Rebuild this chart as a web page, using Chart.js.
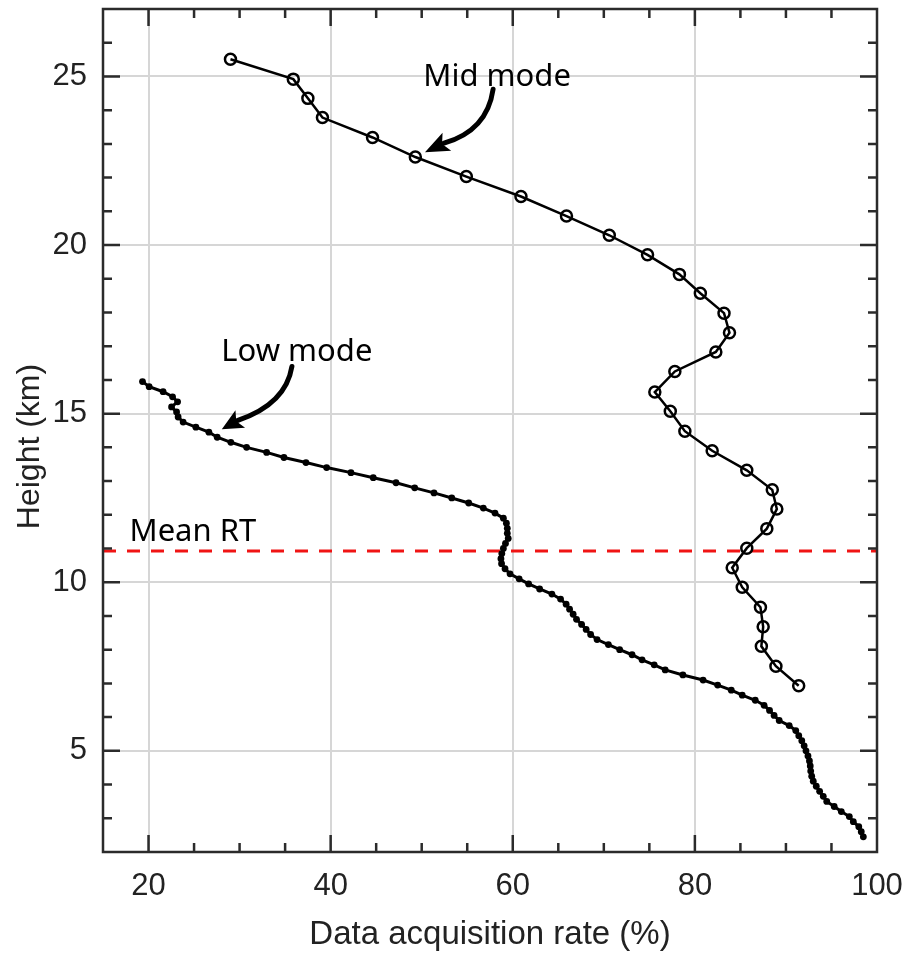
<!DOCTYPE html>
<html>
<head>
<meta charset="utf-8">
<script src="https://cdn.jsdelivr.net/npm/chart.js@4.4.1/dist/chart.umd.min.js"></script>
<style>
  html, body { margin: 0; padding: 0; background: #fff; }
  #wrap { width: 909px; height: 954px; }
</style>
</head>
<body>
<div id="wrap"><canvas id="rateChart" width="909" height="954"></canvas></div>
<script>
// ===== datos =====
const xTickLabels = [20, 40, 60, 80, 100];
const yTickLabels = [5, 10, 15, 20, 25];

// Mid mode (circulos)
const midRate = [29.0, 35.9, 37.5, 39.1, 44.6, 49.3, 54.9, 60.9, 65.9, 70.6, 74.8, 78.3, 80.6,
  83.2, 83.8, 82.3, 77.8, 75.6, 77.3, 78.9, 81.9, 85.7, 88.5, 89.0, 87.9, 85.7, 84.1, 85.2,
  87.2, 87.5, 87.3, 88.9, 91.4];
const midHeight = [25.51, 24.92, 24.35, 23.78, 23.19, 22.61, 22.03, 21.44, 20.86, 20.29, 19.71,
  19.13, 18.57, 17.98, 17.40, 16.83, 16.25, 15.64, 15.07, 14.48, 13.90, 13.32, 12.74, 12.17,
  11.59, 11.01, 10.43, 9.85, 9.26, 8.68, 8.10, 7.51, 6.93];

// Low mode (puntos)
const lowRate = [19.34, 20.07, 21.6, 22.64, 23.19, 22.53, 23.08, 23.25, 23.8, 25.2,
  26.63, 27.54, 29.04, 30.77, 32.97, 34.87, 37.29, 39.56, 42.23, 44.68,
  47.18, 49.23, 51.35, 53.3, 55.16, 56.77, 58.05, 58.97, 59.3, 59.4,
  59.4, 59.5, 59.2, 58.97, 58.8, 58.7, 58.77, 59.15, 59.7, 60.7,
  61.74, 62.95, 64.3, 65.25, 65.86, 66.24, 66.63, 67.0, 67.56, 68.06,
  68.55, 69.26, 70.5, 71.74, 73.1, 74.2, 75.53, 76.74, 78.68, 80.9,
  82.5, 84.0, 85.2, 86.63, 87.6, 88.2, 88.7, 89.26, 90.36, 91.08,
  91.41, 91.74, 92.0, 92.2, 92.42, 92.58, 92.67, 92.72, 92.83, 93.0,
  93.33, 93.7, 94.1, 94.48, 95.3, 96.08, 96.96, 97.4, 98.0, 98.27, 98.5];
const lowHeight = [15.95, 15.80, 15.65, 15.50, 15.35, 15.20, 15.05, 14.90, 14.75, 14.60,
  14.45, 14.30, 14.15, 14.00, 13.85, 13.70, 13.55, 13.40, 13.25, 13.10,
  12.95, 12.80, 12.65, 12.50, 12.35, 12.20, 12.05, 11.90, 11.75, 11.60,
  11.45, 11.30, 11.15, 11.00, 10.85, 10.70, 10.55, 10.40, 10.25, 10.10,
  9.95, 9.80, 9.65, 9.50, 9.35, 9.20, 9.05, 8.90, 8.75, 8.60,
  8.45, 8.30, 8.15, 8.00, 7.85, 7.70, 7.55, 7.40, 7.25, 7.10,
  6.95, 6.80, 6.65, 6.50, 6.35, 6.20, 6.05, 5.90, 5.75, 5.60,
  5.45, 5.30, 5.15, 5.00, 4.85, 4.70, 4.55, 4.40, 4.25, 4.10,
  3.95, 3.80, 3.65, 3.50, 3.35, 3.20, 3.05, 2.90, 2.75, 2.60, 2.45];

// Altura media de la tropopausa (linea roja)
const meanRtHeight = 10.93;
const xRange = [15, 100];
const yRange = [2, 27];

const toPoints = (xs, ys) => xs.map((v, i) => ({ x: v, y: ys[i] }));

const AXIS_FONT = "'Liberation Sans', Arial, sans-serif";
const NOTE_FONT = "'Noto Sans', 'Open Sans', sans-serif";
const INK = '#222';

// ===== anotaciones, ticks hacia adentro y marco =====
const notesPlugin = {
  id: 'notes',
  afterDraw(chart) {
    const { ctx, chartArea: a, scales: { x, y } } = chart;
    const px = v => x.getPixelForValue(v);
    const py = v => y.getPixelForValue(v);
    ctx.save();

    // marco
    ctx.strokeStyle = '#2b2b2b';
    ctx.lineWidth = 2.5;
    ctx.strokeRect(a.left, a.top, a.right - a.left, a.bottom - a.top);

    // ticks menores y mayores
    ctx.beginPath();
    for (let v = xRange[0] + 5; v < xRange[1]; v += 5) {
      const len = v % 20 === 0 ? 17 : 9;
      const p = px(v);
      ctx.moveTo(p, a.bottom); ctx.lineTo(p, a.bottom - len);
      ctx.moveTo(p, a.top); ctx.lineTo(p, a.top + len);
    }
    for (let v = yRange[0] + 1; v < yRange[1]; v += 1) {
      const len = v % 5 === 0 ? 17 : 9;
      const p = py(v);
      ctx.moveTo(a.left, p); ctx.lineTo(a.left + len, p);
      ctx.moveTo(a.right, p); ctx.lineTo(a.right - len, p);
    }
    ctx.stroke();

    // titulo del eje y (un poco por debajo del centro, como en la figura)
    ctx.save();
    ctx.translate(30, (a.top + a.bottom) / 2 + 16);
    ctx.rotate(-Math.PI / 2);
    ctx.fillStyle = INK;
    ctx.textAlign = 'center';
    ctx.textBaseline = 'middle';
    ctx.font = '32px ' + AXIS_FONT;
    ctx.fillText('Height (km)', 0, 0);
    ctx.restore();

    // textos
    ctx.fillStyle = '#000';
    ctx.textAlign = 'center';
    ctx.textBaseline = 'middle';
    ctx.font = '31px ' + NOTE_FONT;
    ctx.fillText('Mid mode', px(58.28), py(24.98));
    ctx.fillText('Low mode', px(36.29), py(16.82));
    ctx.fillText('Mean RT', px(24.87), py(11.48));

    // flechas curvas
    const arrow = (p0, c1, c2, end, tip) => {
      ctx.strokeStyle = '#000';
      ctx.lineWidth = 5;
      ctx.lineCap = 'round';
      ctx.beginPath();
      ctx.moveTo(px(p0[0]), py(p0[1]));
      ctx.bezierCurveTo(px(c1[0]), py(c1[1]), px(c2[0]), py(c2[1]), px(end[0]), py(end[1]));
      ctx.stroke();
      const bx = px(end[0]), by = py(end[1]);
      const tx = px(tip[0]), ty = py(tip[1]);
      const dx = tx - bx, dy = ty - by;
      const d = Math.hypot(dx, dy);
      const nx = -dy / d * 10, ny = dx / d * 10;
      ctx.beginPath();
      ctx.moveTo(tx, ty);
      ctx.lineTo(bx + nx - dx * 0.15, by + ny - dy * 0.15);
      ctx.lineTo(bx + dx * 0.1, by + dy * 0.1);
      ctx.lineTo(bx - nx - dx * 0.15, by - ny - dy * 0.15);
      ctx.closePath();
      ctx.fillStyle = '#000';
      ctx.fill();
    };
    arrow([57.84, 24.62], [57.40, 23.79], [55.53, 23.26], [52.45, 23.02], [50.36, 22.75]);
    arrow([35.75, 16.40], [35.31, 15.66], [33.33, 15.12], [29.81, 14.80], [28.05, 14.54]);

    ctx.restore();
  }
};

const ctx = document.getElementById('rateChart').getContext('2d');

new Chart(ctx, {
  type: 'scatter',
  data: {
    datasets: [
      {
        label: 'Low mode',
        data: toPoints(lowRate, lowHeight),
        showLine: true,
        borderColor: '#000',
        borderWidth: 3,
        pointRadius: 3.4,
        pointBorderWidth: 0,
        pointBackgroundColor: '#000'
      },
      {
        label: 'Mid mode',
        data: toPoints(midRate, midHeight),
        showLine: true,
        borderColor: '#000',
        borderWidth: 2.5,
        pointRadius: 5.5,
        pointBorderWidth: 2.5,
        pointBorderColor: '#000',
        pointBackgroundColor: 'rgba(0,0,0,0)'
      },
      {
        label: 'Mean RT',
        data: [{ x: xRange[0], y: meanRtHeight }, { x: xRange[1], y: meanRtHeight }],
        showLine: true,
        borderColor: 'rgb(240,20,20)',
        borderWidth: 3,
        borderDash: [13, 11],
        pointRadius: 0
      }
    ]
  },
  options: {
    responsive: false,
    animation: false,
    layout: { padding: { top: 9, right: 32, left: 0, bottom: 0 } },
    plugins: { legend: { display: false }, tooltip: { enabled: false } },
    scales: {
      x: {
        type: 'linear',
        min: xRange[0],
        max: xRange[1],
        afterBuildTicks: s => { s.ticks = xTickLabels.map(v => ({ value: v })); },
        afterFit: s => { s.height = 102; s.paddingLeft = 0; s.paddingRight = 0; },
        grid: { color: '#d6d6d6', lineWidth: 2, drawTicks: false },
        border: { display: false },
        ticks: {
          padding: 16,
          maxRotation: 0,
          autoSkip: false,
          color: INK,
          font: { family: AXIS_FONT, size: 31 }
        },
        title: {
          display: true,
          text: 'Data acquisition rate (%)',
          color: INK,
          font: { family: AXIS_FONT, size: 33, lineHeight: 1 },
          padding: { top: 0, bottom: 3 }
        }
      },
      y: {
        type: 'linear',
        min: yRange[0],
        max: yRange[1],
        afterBuildTicks: s => { s.ticks = yTickLabels.map(v => ({ value: v })); },
        afterFit: s => { s.width = 103; s.paddingTop = 0; s.paddingBottom = 0; },
        grid: { color: '#d6d6d6', lineWidth: 2, drawTicks: false },
        border: { display: false },
        ticks: {
          padding: 16,
          autoSkip: false,
          color: INK,
          font: { family: AXIS_FONT, size: 31 }
        },
        title: { display: false }
      }
    }
  },
  plugins: [notesPlugin]
});
</script>
</body>
</html>
